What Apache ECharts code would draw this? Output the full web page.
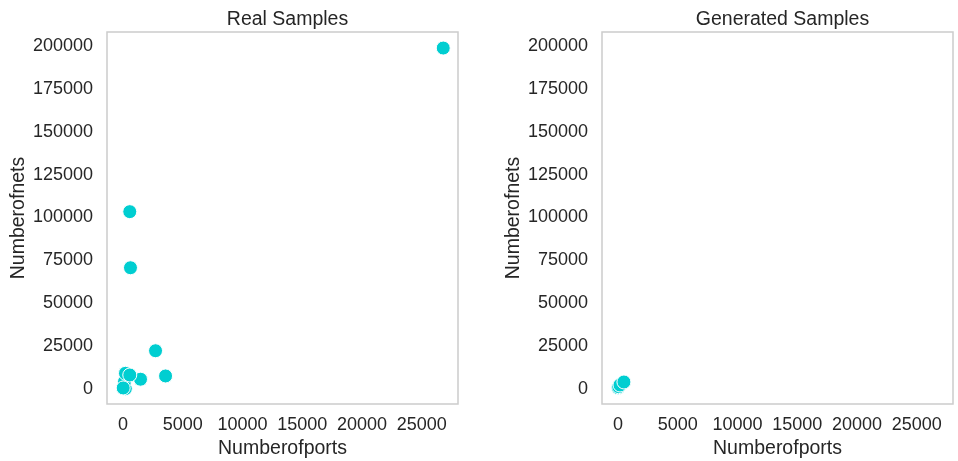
<!DOCTYPE html>
<html>
<head>
<meta charset="utf-8">
<script src="https://cdn.jsdelivr.net/npm/echarts@6/dist/echarts.min.js"></script>
<style>
  html, body { margin: 0; padding: 0; background: #ffffff; }
  #chart { width: 958px; height: 461px; }
</style>
</head>
<body>
<div id="chart"></div>
<script>
// Real samples: number of ports vs number of nets
const realPorts = [26800, 570, 630, 2727, 3565, 1470, 67, 200, 126, 210, 20, 570];
const realNets  = [198800, 103400, 70700, 22300, 7600, 5700, 1340, 200, 4260, 9150, 600, 8160];

// Generated samples
const genPorts = [10, 60, 170, 500];
const genNets  = [700, 1340, 2330, 4080];

// Tick labels shared by both panels
const xTicks = [0, 5000, 10000, 15000, 20000, 25000];
const yTicks = [0, 25000, 50000, 75000, 100000, 125000, 150000, 175000, 200000];

const panelTitles = ['Real Samples', 'Generated Samples'];
const xName = 'Numberofports';
const yName = 'Numberofnets';

const FONT = '"Liberation Sans", Arial, sans-serif';
const TEXT = '#262626';
const POINT = '#00CED1';

const xRange = { min: -1335, max: 28035 };
const yRange = { min: -8750, max: 208160 };

const grids = [
  { left: 107, top: 32, width: 351, height: 372 },
  { left: 602, top: 32, width: 351, height: 372 }
];

const plain = v => String(v);

function makeX(i) {
  return {
    type: 'value', gridIndex: i, min: xRange.min, max: xRange.max,
    name: xName, nameLocation: 'middle', nameGap: 32,
    nameTextStyle: { fontFamily: FONT, fontSize: 19.5, color: TEXT },
    axisLine: { show: false }, axisTick: { show: false }, splitLine: { show: false },
    axisLabel: { customValues: xTicks, formatter: plain, margin: 12, fontFamily: FONT, fontSize: 18, color: TEXT }
  };
}
function makeY(i) {
  return {
    type: 'value', gridIndex: i, min: yRange.min, max: yRange.max,
    name: yName, nameLocation: 'middle', nameGap: 73,
    nameTextStyle: { fontFamily: FONT, fontSize: 19.5, color: TEXT },
    axisLine: { show: false }, axisTick: { show: false }, splitLine: { show: false },
    axisLabel: { customValues: yTicks, formatter: plain, margin: 14, fontFamily: FONT, fontSize: 18, color: TEXT }
  };
}

function pairs(xs, ys) { return xs.map((x, k) => [x, ys[k]]); }

const chart = echarts.init(document.getElementById('chart'), null, { renderer: 'canvas' });
chart.setOption({
  animation: false,
  backgroundColor: '#ffffff',
  title: panelTitles.map((t, i) => ({
    text: t,
    left: grids[i].left + grids[i].width / 2,
    textAlign: 'center',
    top: 5,
    textStyle: { fontFamily: FONT, fontSize: 19.5, fontWeight: 'normal', color: TEXT }
  })),
  grid: grids.map(g => Object.assign({
    show: true, borderColor: '#cccccc', borderWidth: 1.5, backgroundColor: 'transparent',
    containLabel: false, outerBoundsMode: 'none'
  }, g)),
  xAxis: [makeX(0), makeX(1)],
  yAxis: [makeY(0), makeY(1)],
  series: [
    {
      type: 'scatter', xAxisIndex: 0, yAxisIndex: 0,
      data: pairs(realPorts, realNets),
      symbolSize: 14,
      itemStyle: { color: POINT, borderColor: '#ffffff', borderWidth: 1, opacity: 1 }
    },
    {
      type: 'scatter', xAxisIndex: 1, yAxisIndex: 1,
      data: pairs(genPorts, genNets),
      symbolSize: 14,
      itemStyle: { color: POINT, borderColor: '#ffffff', borderWidth: 1, opacity: 1 }
    }
  ]
});
</script>
</body>
</html>
